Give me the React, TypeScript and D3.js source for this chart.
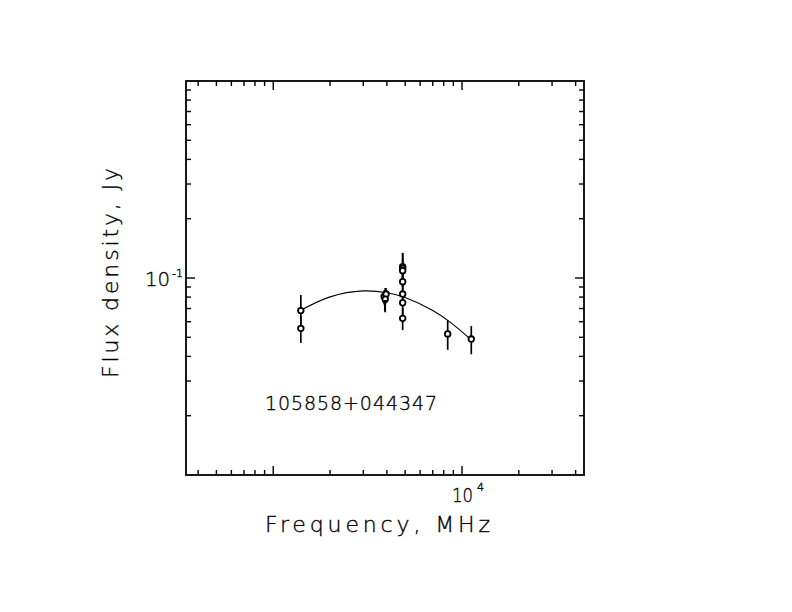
import React from "react";
import { scaleLog, line, curveNatural, range } from "d3";

// Measurements (frequency MHz, flux Jy, error Jy, marker)
const freqs = [1400, 1400, 3870, 3960, 3920, 3900, 4850, 4850, 4850, 4850, 4850, 4850, 4850, 8400, 11200];
const fluxes = [0.0683, 0.0555, 0.0805, 0.0829, 0.078, 0.0747, 0.1141, 0.112, 0.1089, 0.0958, 0.0829, 0.0749, 0.0624, 0.052, 0.049];
const errors = [0.0137, 0.0087, 0.006, 0.006, 0.011, 0.007, 0.02, 0.022, 0.015, 0.012, 0.01, 0.01, 0.008, 0.0088, 0.008];
const markers = ["o", "o", "o", "o", "o", "v", "o", "o", "o", "o", "o", "o", "o", "o", "o"];

// Fitted spectrum
const fitFreqs = [1400, 2000, 3000, 4000, 5000, 7000, 9000, 11200];
const fitFluxes = [0.0686, 0.0802, 0.086, 0.0842, 0.0796, 0.0684, 0.058, 0.0485];

const sourceName = "105858+044347";
const xTitle = "Frequency, MHz";
const yTitle = "Flux density, Jy";

const W = 792;
const H = 612;

export default function App() {
  const x = scaleLog().domain([345, 44300]).range([186, 584]);
  const y = scaleLog().domain([0.01, 1]).range([475, 81]);

  const [x0, x1] = x.range();
  const [y0, y1] = y.range();

  // minor/major ticks
  const xTicks: { v: number; major: boolean }[] = [];
  [100, 1000, 10000].forEach((dec) =>
    range(1, 10).forEach((m) => {
      const v = dec * m;
      if (v > 345 && v < 44300) xTicks.push({ v, major: m === 1 });
    })
  );
  const yTicks: { v: number; major: boolean }[] = [];
  [0.01, 0.1].forEach((dec) =>
    range(1, 10).forEach((m) => {
      const v = dec * m;
      if (v > 0.0101 && v < 0.99) yTicks.push({ v, major: m === 1 });
    })
  );

  const fitLine = line<number>()
    .x((_, i) => x(fitFreqs[i]))
    .y((d) => y(d))
    .curve(curveNatural);

  const font = "'DejaVu Sans', sans-serif";
  const weight = 200;
  const majorLen = 9;
  const minorLen = 5;
  const textStyle = { stroke: "#000", strokeWidth: 0.35 };

  return (
    <svg
      width={W}
      height={H}
      style={{ position: "absolute", left: 0, top: 0, background: "#fff" }}
    >
      {/* frame */}
      <rect x={x0} y={y1} width={x1 - x0} height={y0 - y1} fill="none" stroke="#000" strokeWidth={1.8} />

      {/* x ticks bottom + top */}
      {xTicks.map((t, i) => {
        const px = x(t.v);
        const len = t.major ? majorLen : minorLen;
        return (
          <g key={`xt${i}`} stroke="#000" strokeWidth={1.4}>
            <line x1={px} x2={px} y1={y0} y2={y0 - len} />
            <line x1={px} x2={px} y1={y1} y2={y1 + len} />
          </g>
        );
      })}

      {/* y ticks left + right */}
      {yTicks.map((t, i) => {
        const py = y(t.v);
        const len = t.major ? majorLen : minorLen;
        return (
          <g key={`yt${i}`} stroke="#000" strokeWidth={1.4}>
            <line x1={x0} x2={x0 + len} y1={py} y2={py} />
            <line x1={x1} x2={x1 - len} y1={py} y2={py} />
          </g>
        );
      })}

      {/* tick labels */}
      <g fontFamily={font} fontWeight={weight} fill="#000" style={textStyle}>
        <text x={x(10000) - 10} y={502} fontSize={20} textLength={21} lengthAdjust="spacingAndGlyphs">
          10
        </text>
        <text x={x(10000) + 15} y={491} fontSize={11}>
          4
        </text>
        <text x={145} y={286} fontSize={20} textLength={25} lengthAdjust="spacingAndGlyphs">
          10
        </text>
        <text x={172} y={277} fontSize={10} textLength={11} lengthAdjust="spacingAndGlyphs">
          -1
        </text>
      </g>

      {/* fit curve */}
      <path d={fitLine(fitFluxes) ?? ""} fill="none" stroke="#000" strokeWidth={1.1} />

      {/* error bars */}
      {freqs.map((f, i) => (
        <line
          key={`e${i}`}
          x1={x(f)}
          x2={x(f)}
          y1={y(fluxes[i] + errors[i])}
          y2={y(fluxes[i] - errors[i])}
          stroke="#000"
          strokeWidth={1.7}
        />
      ))}

      {/* points */}
      {freqs.map((f, i) =>
        markers[i] === "v" ? (
          <path
            key={`p${i}`}
            d={`M${x(f) - 3},${y(fluxes[i]) - 3} L${x(f) + 3},${y(fluxes[i]) - 3} L${x(f)},${y(fluxes[i]) + 4} Z`}
            fill="#000"
          />
        ) : (
          <circle
            key={`p${i}`}
            cx={x(f)}
            cy={y(fluxes[i])}
            r={2.8}
            fill="#fff"
            stroke="#000"
            strokeWidth={1.8}
          />
        )
      )}

      {/* source name */}
      <text x={265} y={410} fontFamily={font} fontWeight={weight} fontSize={19} textLength={172} lengthAdjust="spacing" style={textStyle}>
        {sourceName}
      </text>

      {/* axis titles */}
      <text x={265} y={532} fontFamily={font} fontWeight={weight} fontSize={22} textLength={225} lengthAdjust="spacing" style={textStyle}>
        {xTitle}
      </text>
      <text
        transform={`translate(118,378) rotate(-90)`}
        fontFamily={font}
        fontWeight={weight}
        fontSize={22}
        textLength={210}
        lengthAdjust="spacing"
        style={textStyle}
      >
        {yTitle}
      </text>
    </svg>
  );
}
